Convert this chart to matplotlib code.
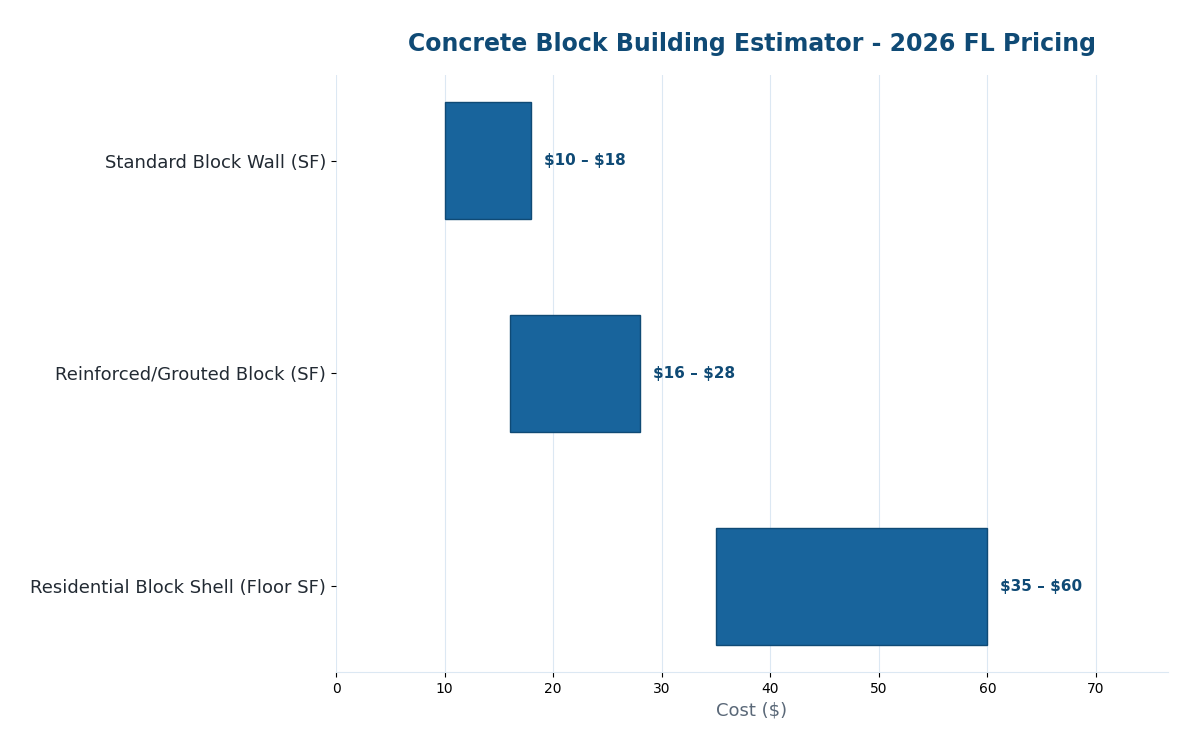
import matplotlib.pyplot as plt

categories = ['Standard Block Wall (SF)', 'Reinforced/Grouted Block (SF)',
              'Residential Block Shell (Floor SF)']
low = [10, 16, 35]
high = [18, 28, 60]

fig = plt.figure(figsize=(12, 7.5), dpi=100)
ax = fig.add_axes([0.28, 0.104, 0.693, 0.796])

ypos = list(range(len(categories)))[::-1]
widths = [h - l for l, h in zip(low, high)]
ax.barh(ypos, widths, left=low, height=0.55, color='#18649c',
        edgecolor='#0f4a75', linewidth=1, zorder=3)

for y, l, h in zip(ypos, low, high):
    ax.text(h + 1.2, y, f'\\${l} \u2013 \\${h}', va='center', ha='left',
            fontsize=11, fontweight='bold', color='#0f4a75')

ax.set_yticks(ypos)
ax.set_yticklabels(categories, fontsize=13, color='#222a33')
ax.set_xlim(0, 76.6)
ax.set_xticks(range(0, 80, 10))
ax.tick_params(axis='x', labelsize=10)
ax.set_xlabel('Cost (\\$)', fontsize=13, color='#5a6878')
ax.set_title('Concrete Block Building Estimator - 2026 FL Pricing',
             fontsize=17, fontweight='bold', color='#0f4a75', pad=17)

ax.grid(axis='x', color='#dce8f3', linewidth=0.8, zorder=0)
for s in ['top', 'right', 'left']:
    ax.spines[s].set_visible(False)
ax.spines['bottom'].set_color('#dce8f3')

fig.savefig('out.png', dpi=100)
